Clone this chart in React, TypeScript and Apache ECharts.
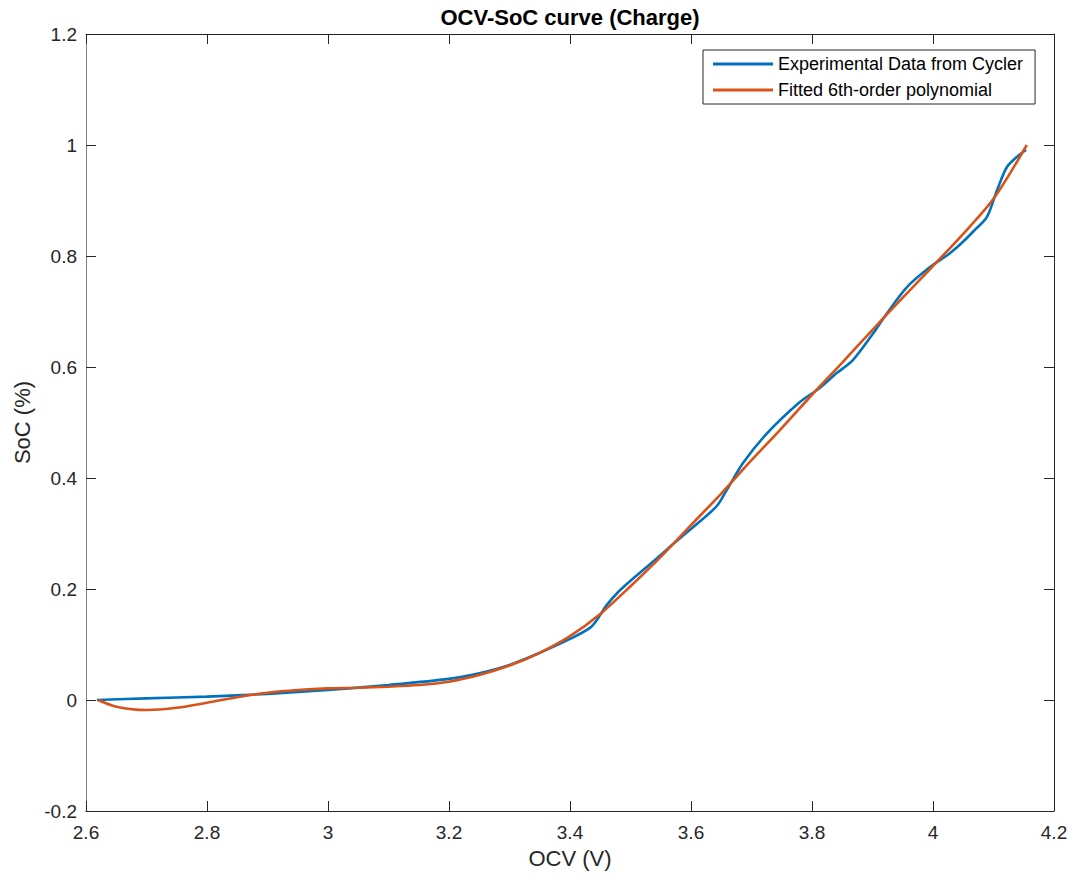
import React, { useEffect, useRef } from "react";
import * as echarts from "echarts";

const xTicks = [2.6, 2.8, 3.0, 3.2, 3.4, 3.6, 3.8, 4.0, 4.2];
const yTicks = [-0.2, 0, 0.2, 0.4, 0.6, 0.8, 1.0, 1.2];

const expOcv = [2.618, 2.7, 2.8, 2.9, 3.0, 3.1, 3.2, 3.25, 3.3, 3.35, 3.4, 3.433, 3.445, 3.46, 3.48, 3.5, 3.54, 3.58, 3.615, 3.643, 3.66, 3.686, 3.726, 3.78, 3.81, 3.841, 3.868, 3.9, 3.924, 3.957, 3.995, 4.028, 4.05, 4.07, 4.089, 4.106, 4.122, 4.14, 4.154];
const expSoc = [0.0, 0.003, 0.006, 0.011, 0.018, 0.027, 0.038, 0.048, 0.063, 0.085, 0.11, 0.13, 0.145, 0.17, 0.195, 0.215, 0.252, 0.29, 0.322, 0.35, 0.38, 0.427, 0.481, 0.537, 0.56, 0.589, 0.613, 0.659, 0.697, 0.744, 0.78, 0.805, 0.826, 0.848, 0.87, 0.919, 0.96, 0.98, 0.991];

const fitOcv = [2.62, 2.65, 2.7, 2.75, 2.8, 2.85, 2.9, 2.95, 3.0, 3.05, 3.1, 3.15, 3.2, 3.25, 3.3, 3.35, 3.4, 3.45, 3.5, 3.55, 3.6, 3.65, 3.7, 3.75, 3.8, 3.85, 3.9, 3.95, 4.0, 4.05, 4.1, 4.155];
const fitSoc = [0.0, -0.012, -0.018, -0.014, -0.005, 0.005, 0.013, 0.018, 0.021, 0.022, 0.024, 0.027, 0.033, 0.045, 0.062, 0.085, 0.115, 0.155, 0.205, 0.258, 0.315, 0.372, 0.432, 0.49, 0.55, 0.608, 0.667, 0.725, 0.782, 0.84, 0.903, 1.0];

const seriesNames = ["Experimental Data from Cycler", "Fitted 6th-order polynomial"];
const seriesColors = ["#0072BD", "#D95319"];

const FONT = "'Liberation Sans', Arial, Helvetica, sans-serif";
const AX = "#262626";

export default function App() {
  const ref = useRef<HTMLDivElement>(null);
  useEffect(() => {
    if (!ref.current) return;
    const chart = echarts.init(ref.current, undefined, { renderer: "svg" });
    const xMin = xTicks[0], xMax = xTicks[xTicks.length - 1];
    const yMin = yTicks[0], yMax = yTicks[yTicks.length - 1];
    const baseX = (pos: "bottom" | "top", show: boolean) => ({
      type: "value",
      position: pos,
      min: xMin,
      max: xMax,
      interval: 0.2,
      axisLine: { show: true, onZero: false, lineStyle: { color: AX, width: 1 } },
      axisTick: { show: true, inside: true, length: 10, lineStyle: { color: AX } },
      axisLabel: { show, color: AX, fontSize: 19, fontFamily: FONT, margin: 12 },
      splitLine: { show: false },
    });
    const baseY = (pos: "left" | "right", show: boolean) => ({
      type: "value",
      position: pos,
      min: yMin,
      max: yMax,
      interval: 0.2,
      axisLine: { show: true, onZero: false, lineStyle: { color: pos === "left" ? "#808080" : AX, width: 1 } },
      axisTick: { show: true, inside: true, length: 10, lineStyle: { color: AX } },
      axisLabel: { show, color: AX, fontSize: 19, fontFamily: FONT, margin: 9 },
      splitLine: { show: false },
    });
    const x0: any = baseX("bottom", true);
    x0.name = "OCV (V)";
    x0.nameLocation = "middle";
    x0.nameGap = 36;
    x0.nameTextStyle = { color: AX, fontSize: 22, fontFamily: FONT };
    const y0: any = baseY("left", true);
    y0.name = "SoC (%)";
    y0.nameLocation = "middle";
    y0.nameGap = 53;
    y0.nameTextStyle = { color: AX, fontSize: 22, fontFamily: FONT };

    chart.setOption({
      animation: false,
      backgroundColor: "#ffffff",
      title: {
        text: "OCV-SoC curve (Charge)",
        left: 570,
        textAlign: "center",
        top: 6,
        padding: 0,
        textStyle: { color: "#000", fontSize: 22, fontWeight: "bold", fontFamily: FONT },
      },
      grid: { left: 86, top: 34, width: 968, height: 777, containLabel: false, outerBoundsMode: "none" },
      xAxis: [x0, baseX("top", false)],
      yAxis: [y0, baseY("right", false)],
      legend: {
        left: 703,
        top: 50,
        orient: "vertical",
        data: seriesNames.map((n) => ({ name: n, icon: "rect" })),
        itemWidth: 60,
        itemHeight: 3,
        itemGap: 8,
        padding: [5, 12, 5, 10],
        borderColor: AX,
        borderWidth: 1,
        backgroundColor: "#fff",
        textStyle: { color: "#000", fontSize: 18, fontFamily: FONT },
      },
      series: [
        {
          name: seriesNames[0],
          type: "line",
          xAxisIndex: 0,
          yAxisIndex: 0,
          data: expOcv.map((x, i) => [x, expSoc[i]]),
          showSymbol: false,
          symbol: "none",
          smooth: 0.3,
          lineStyle: { color: seriesColors[0], width: 2.6 },
          itemStyle: { color: seriesColors[0] },
        },
        {
          name: seriesNames[1],
          type: "line",
          xAxisIndex: 0,
          yAxisIndex: 0,
          data: fitOcv.map((x, i) => [x, fitSoc[i]]),
          showSymbol: false,
          symbol: "none",
          smooth: 0.3,
          lineStyle: { color: seriesColors[1], width: 2.6 },
          itemStyle: { color: seriesColors[1] },
        },
      ],
    });
    return () => chart.dispose();
  }, []);
  return <div ref={ref} style={{ position: "absolute", left: 0, top: 0, width: 1073, height: 882 }} />;
}
